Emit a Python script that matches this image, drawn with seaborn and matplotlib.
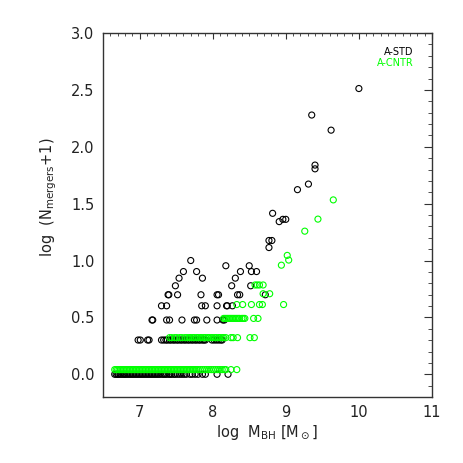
import numpy as np
import pandas as pd
import seaborn as sns
import matplotlib.pyplot as plt
from matplotlib.ticker import MultipleLocator

# A-STD run: x positions (log M_BH) for each level of log(N+1)
std_y0 = [6.66, 6.68, 6.70, 6.71, 6.73, 6.75, 6.77, 6.79, 6.80, 6.82, 6.84, 6.86,
          6.88, 6.90, 6.92, 6.94, 6.96, 6.98, 7.00, 7.02, 7.04, 7.06, 7.08, 7.10,
          7.12, 7.14, 7.16, 7.18, 7.20, 7.22, 7.24, 7.26, 7.28, 7.31, 7.33, 7.35,
          7.37, 7.40, 7.42, 7.44, 7.47, 7.49, 7.52, 7.55, 7.58, 7.61, 7.64, 7.69,
          7.72, 7.76, 7.80, 7.86, 7.90, 8.06, 8.21]
std_y1 = [6.98, 7.01, 7.11, 7.13, 7.30, 7.33, 7.36, 7.38, 7.41, 7.43, 7.46, 7.48,
          7.51, 7.53, 7.56, 7.58, 7.61, 7.63, 7.66, 7.68, 7.71, 7.73, 7.76, 7.78,
          7.81, 7.83, 7.86, 7.88, 7.90, 7.99, 8.02, 8.05, 8.08, 8.11, 8.13]
std_y2 = [7.17, 7.18, 7.37, 7.41, 7.58, 7.75, 7.78, 7.92, 8.06, 8.14, 8.16]
std_y3 = [7.30, 7.37, 7.85, 7.90, 8.06, 8.19, 8.20, 8.27]
std_y4 = [7.39, 7.40, 7.52, 7.84, 8.06, 8.08, 8.34, 8.37, 8.72]
std_y5 = [7.49, 8.26, 8.52]
std_y6 = [7.54, 7.86, 8.31]
std_y7 = [7.60, 7.78, 8.38, 8.53, 8.60]
std_y8 = [8.18, 8.50]
std_y9 = [7.70]
std_hi_x = [8.77, 8.77, 8.81, 8.91, 8.96, 9.00, 8.82, 9.16, 9.31, 9.40, 9.40, 9.355, 9.62, 10.0]
std_hi_y = [1.114, 1.176, 1.176, 1.342, 1.362, 1.362, 1.415, 1.623, 1.672, 1.806, 1.839, 2.279, 2.146, 2.512]
std_levels = [0.0, 0.301, 0.477, 0.602, 0.699, 0.778, 0.845, 0.903, 0.954, 1.0]

# A-CNTR run
cntr_y0 = [6.66, 6.68, 6.70, 6.72, 6.74, 6.76, 6.78, 6.80, 6.82, 6.84, 6.86, 6.88,
           6.90, 6.92, 6.94, 6.96, 6.98, 7.00, 7.02, 7.04, 7.06, 7.08, 7.10, 7.12,
           7.14, 7.16, 7.18, 7.20, 7.22, 7.24, 7.26, 7.28, 7.30, 7.32, 7.34, 7.36,
           7.38, 7.40, 7.42, 7.44, 7.46, 7.48, 7.50, 7.52, 7.54, 7.56, 7.58, 7.60,
           7.62, 7.64, 7.66, 7.68, 7.70, 7.72, 7.74, 7.76, 7.78, 7.80, 7.83, 7.86,
           7.89, 7.92, 7.95, 7.98, 8.01, 8.04, 8.07, 8.10, 8.13, 8.16, 8.18, 8.25, 8.33]
cntr_y1 = [7.41, 7.44, 7.48, 7.51, 7.55, 7.58, 7.62, 7.65, 7.68, 7.70, 7.73, 7.75,
           7.78, 7.80, 7.83, 7.85, 7.88, 7.90, 7.93, 7.95, 7.98, 8.00, 8.03, 8.05,
           8.08, 8.10, 8.13, 8.15, 8.18, 8.25, 8.28, 8.34, 8.51, 8.57]
cntr_y2 = [8.15, 8.17, 8.19, 8.21, 8.23, 8.25, 8.27, 8.29, 8.31, 8.33, 8.35, 8.37,
           8.40, 8.42, 8.44, 8.56, 8.62]
cntr_y3 = [8.33, 8.41, 8.53, 8.64, 8.68, 8.97]
cntr_y4 = [8.69, 8.78]
cntr_y5 = [8.58, 8.61, 8.64, 8.69]
cntr_hi_x = [8.94, 9.02, 9.04, 9.26, 9.44, 9.65]
cntr_hi_y = [0.959, 1.045, 1.004, 1.258, 1.364, 1.533]
cntr_levels = [0.041, 0.322, 0.491, 0.613, 0.708, 0.785]


def build(rows, levels, hx, hy):
    xs, ys = [], []
    for r, lv in zip(rows, levels):
        xs += r
        ys += [lv] * len(r)
    return pd.DataFrame({'x': xs + hx, 'y': ys + hy})


std = build([std_y0, std_y1, std_y2, std_y3, std_y4, std_y5, std_y6, std_y7, std_y8, std_y9],
            std_levels, std_hi_x, std_hi_y)
cntr = build([cntr_y0, cntr_y1, cntr_y2, cntr_y3, cntr_y4, cntr_y5],
             cntr_levels, cntr_hi_x, cntr_hi_y)

sns.set_style('white')
plt.rcParams['font.family'] = ['DejaVu Sans']
plt.rcParams['mathtext.default'] = 'regular'

fig = plt.figure(figsize=(4.63, 4.63), dpi=100)
ax = fig.add_axes([0.2225, 0.1425, 0.7105, 0.7862])

for df, col in [(std, 'black'), (cntr, '#00ff00')]:
    sns.scatterplot(data=df, x='x', y='y', ax=ax, s=19, marker='o', color=col, legend=False)
    coll = ax.collections[-1]
    coll.set_facecolor('none')
    coll.set_edgecolor(col)
    coll.set_linewidth(0.8)

ax.set_xlim(6.5, 11)
ax.set_ylim(-0.2, 3.0)
ax.xaxis.set_major_locator(MultipleLocator(1))
ax.xaxis.set_minor_locator(MultipleLocator(0.1))
ax.yaxis.set_major_locator(MultipleLocator(0.5))
ax.yaxis.set_minor_locator(MultipleLocator(0.1))
ax.set_yticks([0, 0.5, 1.0, 1.5, 2.0, 2.5, 3.0])
ax.set_yticklabels(['0.0', '0.5', '1.0', '1.5', '2.0', '2.5', '3.0'])
ax.tick_params(which='both', direction='in', top=True, right=True, color='#333333',
               labelsize=10.5, pad=6, labelcolor='#222222')
ax.tick_params(axis='x', which='major', length=4)
ax.tick_params(axis='x', which='minor', length=2)
ax.tick_params(axis='y', which='major', length=5.5)
ax.tick_params(axis='y', which='minor', length=3)
for sp in ax.spines.values():
    sp.set_color('#333333')
    sp.set_linewidth(1.0)

ax.set_xlabel(r'log  M$_{BH}$ [M$_\odot$]', fontsize=10.5, labelpad=2, color='#222222')
ax.set_ylabel(r'log  (N$_{mergers}$+1)', fontsize=10.5, color='#222222')
ax.yaxis.set_label_coords(-0.135, 0.55)

ax.text(0.945, 0.947, 'A-STD', transform=ax.transAxes, ha='right', va='center',
        fontsize=7, color='black')
ax.text(0.945, 0.917, 'A-CNTR', transform=ax.transAxes, ha='right', va='center',
        fontsize=7, color='#00ff00')

fig.savefig('out.png', dpi=100)
